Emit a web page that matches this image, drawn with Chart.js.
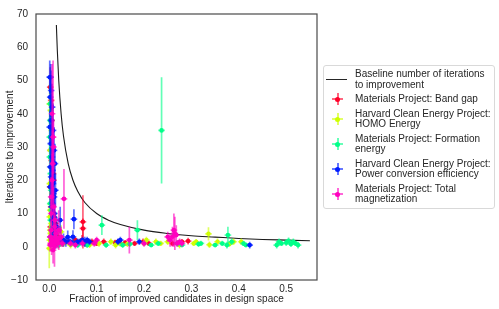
<!DOCTYPE html>
<html>
<head>
<meta charset="utf-8">
<title>Iterations to improvement</title>
<script src="https://cdn.jsdelivr.net/npm/chart.js@4"></script>
<style>
  body { margin: 0; background: #fff; font-family: "Liberation Sans", Arial, sans-serif; }
  #wrap { position: relative; width: 499px; height: 309px; }
  #legend {
    position: absolute; left: 323px; top: 65px; width: 172px; height: 144px;
    box-sizing: border-box; border: 1px solid #d9d9d9; border-radius: 3px;
    padding-top: 3px; font-size: 10px; line-height: 10.5px; color: #262626;
  }
  .item { position: relative; padding-left: 31px; margin-bottom: 4px; white-space: nowrap; }
  .mark { position: absolute; left: 2px; top: 50%; width: 22px; height: 12px; margin-top: -6px; }
  .mark .line { position: absolute; left: 0; top: 5.5px; width: 21px; height: 1.2px; background: #262626; }
  .mark .h { position: absolute; left: 6px; top: 5px; width: 11px; height: 2px; opacity: .6; }
  .mark .v { position: absolute; left: 10.5px; top: 0; width: 2px; height: 12px; opacity: .6; }
  .mark .d { position: absolute; left: 9px; top: 4px; width: 5px; height: 5px; border-radius: 50%; }
</style>
</head>
<body>
<div id="wrap">
  <canvas id="js--chart" width="499" height="309"></canvas>
  <div id="legend"></div>
</div>
<script>
// baseline curve
const baselineX = [0.015, 0.017, 0.02, 0.025, 0.03, 0.04, 0.05, 0.06, 0.075, 0.1, 0.125, 0.15, 0.2, 0.25, 0.3, 0.35, 0.4, 0.45, 0.5, 0.55];
const baselineY = [66.7, 59, 50, 40, 33.3, 25, 20, 16.7, 13.3, 10, 8, 6.7, 5, 4, 3.3, 2.9, 2.5, 2.2, 2, 1.8];

// Materials Project: Band gap
const bandGapX = [0.002, 0.004, 0.006, 0.003, 0.005, 0.008, 0.002, 0.006, 0.004, 0.009, 0.003, 0.007, 0.012, 0.016, 0.010, 0.022, 0.028, 0.040, 0.055, 0.071, 0.071, 0.069, 0.075, 0.090, 0.100, 0.115, 0.139, 0.145, 0.160, 0.180, 0.198, 0.210, 0.260, 0.280, 0.293, 0.005, 0.009, 0.013, 0.019];
const bandGapY = [48, 44, 33, 29, 26, 22, 18, 15, 12, 9, 6, 4, 3, 2, 1, 1.5, 1, 1.5, 2, 7.5, 5.5, 2, 1, 1.5, 1, 1.5, 1.3, 1.5, 1.2, 1, 1.5, 1, 1, 1.5, 1.7, 38, 20, 7, 3];
const bandGapErr = [6, 5, 8, 6, 5, 6, 4, 5, 3, 4, 3, 2, 2, 1.5, 1, 1, 1, 1, 1, 8, 3, 1.5, 1, 1, 0.8, 1, 0.8, 0.8, 0.8, 0.8, 1, 0.8, 0.8, 0.8, 1, 7, 6, 3, 2];

// Harvard Clean Energy Project: HOMO Energy
const homoX = [0.001, 0.003, 0.002, 0.004, 0.001, 0.003, 0.002, 0.001, 0.004, 0.002, 0.003, 0.001, 0.000, 0.006, 0.010, 0.013, 0.025, 0.030, 0.045, 0.060, 0.085, 0.105, 0.130, 0.140, 0.150, 0.165, 0.200, 0.205, 0.225, 0.235, 0.250, 0.275, 0.305, 0.310, 0.336, 0.338, 0.355, 0.380, 0.389, 0.405, 0.005, 0.007, 0.015, 0.020, 0.035];
const homoY = [43, 41, 29, 24, 19, 13, 11, 9, 7, 5, 4, 2, -0.5, 1, 0.5, 3, 4.5, 1, 0.5, 1, 0.5, 1, 1.5, 0.5, 1, 0.8, 1, 2, 1.5, 1, 1.5, 0.5, 1, 1.5, 3.9, 0.6, 1.5, 0.8, 1.5, 1.5, 35, 16, 1.5, 0.5, 1.5];
const homoErr = [6, 4, 4, 5, 3, 3, 3, 3, 3, 2, 2, 1.5, 6, 1, 1, 2, 2, 1, 1, 1, 0.8, 1, 1, 1, 1, 0.8, 0.8, 1, 1, 0.8, 1, 1, 0.8, 0.8, 2, 1, 1, 0.8, 1, 1, 5, 4, 1, 1, 1];

// Materials Project: Formation energy
const formationX = [0.002, 0.001, 0.003, 0.002, 0.005, 0.003, 0.006, 0.004, 0.008, 0.012, 0.020, 0.045, 0.060, 0.080, 0.111, 0.120, 0.155, 0.170, 0.186, 0.215, 0.230, 0.237, 0.270, 0.280, 0.315, 0.320, 0.350, 0.365, 0.375, 0.377, 0.385, 0.410, 0.415, 0.480, 0.485, 0.490, 0.500, 0.505, 0.510, 0.515, 0.520, 0.525, 0.001, 0.004, 0.002, 0.007, 0.016];
const formationY = [38, 27, 22, 13, 11, 8, 5, 3, 2, 1, 0.5, 1, 0.5, 0.5, 6.5, 0.5, 0.5, 0.8, 5, 0.5, 1, 35, 1, 0.5, 0.8, 1, 0.5, 1, 0.5, 3.5, 1.5, 1, 0.5, 0.5, 1.5, 1, 1.2, 1.8, 0.8, 1.5, 1, 0.5, 33, 17, 43, 6, 2];
const formationErr = [5, 4, 3, 3, 3, 2, 2, 2, 1.5, 1, 0.8, 1, 0.8, 0.8, 3, 0.8, 0.8, 0.8, 3, 0.6, 0.8, 16, 1, 0.6, 0.8, 0.8, 0.6, 0.8, 1, 2.5, 1, 0.8, 0.6, 1, 1, 0.8, 1, 1, 0.8, 1, 0.8, 1, 5, 4, 6, 3, 1.5];

// Harvard Clean Energy Project: Power conversion efficiency
const pceX = [0.001, 0.003, 0.002, 0.004, 0.001, 0.005, 0.003, 0.006, 0.002, 0.007, 0.004, 0.008, 0.009, 0.010, 0.005, 0.011, 0.007, 0.009, 0.012, 0.003, 0.006, 0.014, 0.018, 0.022, 0.023, 0.030, 0.035, 0.039, 0.042, 0.045, 0.050, 0.052, 0.055, 0.060, 0.065, 0.070, 0.075, 0.080, 0.085, 0.145, 0.150, 0.190, 0.423, 0.004, 0.006, 0.008, 0.010, 0.012, 0.002, 0.007, 0.009, 0.013, 0.016];
const pceY = [51, 51, 45, 38, 36, 33, 31, 27, 24, 23, 21, 19, 16, 15, 12, 10, 8, 6, 4, 3, 2, 1, 1.5, 2, 8, 2, 1.5, 2.9, 1.5, 1.5, 3, 8.3, 1, 1.5, 1.5, 2, 1.5, 2, 1.5, 1.5, 2, 1.5, 0.5, 47, 42, 35, 29, 25, 18, 13, 9, 17, 6];
const pceErr = [5, 4, 6, 8, 5, 7, 6, 8, 6, 7, 5, 6, 6, 7, 5, 5, 4, 3, 3, 2, 2, 1.5, 1, 1.5, 4, 2, 1.5, 2, 1, 1, 2, 3, 1, 1, 1, 1, 1.5, 1, 1, 1, 1, 1, 1, 6, 7, 8, 7, 6, 5, 5, 4, 5, 3];

// Materials Project: Total magnetization
const magX = [0.008, 0.006, 0.009, 0.004, 0.031, 0.025, 0.020, 0.015, 0.010, 0.005, 0.003, 0.008, 0.011, 0.018, 0.002, 0.004, 0.011, 0.014, 0.006, 0.045, 0.055, 0.070, 0.095, 0.100, 0.169, 0.200, 0.250, 0.255, 0.260, 0.263, 0.265, 0.268, 0.270, 0.275, 0.280, 0.006, 0.009, 0.012, 0.004, 0.007, 0.013, 0.016, 0.002, 0.022, 0.028];
const magY = [33, 40, 30, 15, 14.4, 3, 5, 2, 1, 0.5, 1, -1, 0, 1, 3, 5, 6, 4, 2, 1, 0.5, 1, 1, 2, 2, 1, 3, 2, 3, 5, 4, 3.5, 1, 1.5, 1, 20, 12, 8, 10, 25, 3, 1.5, 0.5, 2.5, 1];
const magErr = [23, 15, 8, 6, 9, 3, 6, 2, 2, 3, 1.5, 4, 6, 1.5, 2, 3, 4, 3, 1.5, 1, 1, 1, 1, 1, 4, 1, 1.5, 2, 3, 5, 5, 3, 1, 1, 1, 8, 6, 5, 4, 10, 2, 1.5, 2, 2, 1];

const xTicks = [0, 0.1, 0.2, 0.3, 0.4, 0.5];
const yTicks = [-10, 0, 10, 20, 30, 40, 50, 60, 70];
const X_ERR = 0.007;
const FONT = '"Liberation Sans", Arial, sans-serif';
const TEXT = '#262626';

const series = [
  { label: "Materials Project: Band gap", legend: ["Materials Project: Band gap"], x: bandGapX, y: bandGapY, err: bandGapErr, color: "#ff0029" },
  { label: "Harvard Clean Energy Project: HOMO Energy", legend: ["Harvard Clean Energy Project:", "HOMO Energy"], x: homoX, y: homoY, err: homoErr, color: "#cfff00" },
  { label: "Materials Project: Formation energy", legend: ["Materials Project: Formation", "energy"], x: formationX, y: formationY, err: formationErr, color: "#00ff89" },
  { label: "Harvard Clean Energy Project: Power conversion efficiency", legend: ["Harvard Clean Energy Project:", "Power conversion efficiency"], x: pceX, y: pceY, err: pceErr, color: "#001cff" },
  { label: "Materials Project: Total magnetization", legend: ["Materials Project: Total", "magnetization"], x: magX, y: magY, err: magErr, color: "#ff00bf" }
];

function toPoints(xs, ys) {
  return xs.map(function (x, i) { return { x: x, y: ys[i] }; });
}

function fade(hex, a) {
  const n = parseInt(hex.slice(1), 16);
  return "rgba(" + (n >> 16) + "," + ((n >> 8) & 255) + "," + (n & 255) + "," + a + ")";
}

const datasets = [{
  label: "Baseline number of iterations to improvement",
  data: toPoints(baselineX, baselineY),
  showLine: true,
  borderColor: "#1a1a1a",
  borderWidth: 1.1,
  pointRadius: 0,
  cubicInterpolationMode: "monotone",
  order: 6
}];

series.forEach(function (s, i) {
  datasets.push({
    label: s.label,
    data: toPoints(s.x, s.y),
    yErr: s.err,
    barColor: fade(s.color, 0.62),
    backgroundColor: s.color,
    borderWidth: 0,
    pointRadius: 2.3,
    showLine: false,
    order: 5 - i
  });
});

// vertical + horizontal error bars, drawn just before each dataset's markers
const errorBars = {
  id: "errorBars",
  beforeDatasetDraw: function (chart, args) {
    const ds = chart.data.datasets[args.index];
    if (!ds.yErr) return;
    const xs = chart.scales.x, ys = chart.scales.y, ctx = chart.ctx, a = chart.chartArea;
    ctx.save();
    ctx.beginPath();
    ctx.rect(a.left, a.top, a.right - a.left, a.bottom - a.top);
    ctx.clip();
    ctx.strokeStyle = ds.barColor;
    ctx.lineWidth = 1.7;
    ds.data.forEach(function (p, i) {
      const px = xs.getPixelForValue(p.x), py = ys.getPixelForValue(p.y);
      ctx.beginPath();
      ctx.moveTo(px, ys.getPixelForValue(p.y - ds.yErr[i]));
      ctx.lineTo(px, ys.getPixelForValue(p.y + ds.yErr[i]));
      ctx.moveTo(xs.getPixelForValue(p.x - X_ERR), py);
      ctx.lineTo(xs.getPixelForValue(p.x + X_ERR), py);
      ctx.stroke();
    });
    ctx.restore();
  }
};

// box around the axes
const frame = {
  id: "frame",
  afterDatasetsDraw: function (chart) {
    const a = chart.chartArea, ctx = chart.ctx;
    ctx.save();
    ctx.strokeStyle = "#4a4a4a";
    ctx.lineWidth = 1.2;
    ctx.strokeRect(a.left, a.top, a.right - a.left, a.bottom - a.top);
    ctx.restore();
  }
};

new Chart(document.getElementById("js--chart"), {
  type: "scatter",
  data: { datasets: datasets },
  plugins: [errorBars, frame],
  options: {
    responsive: false,
    animation: false,
    devicePixelRatio: 1,
    layout: { padding: { top: 6, right: 182, left: 0, bottom: 0 } },
    plugins: { legend: { display: false }, tooltip: { enabled: false } },
    scales: {
      x: {
        type: "linear", min: -0.028, max: 0.565,
        grid: { display: false, drawTicks: false },
        border: { display: false },
        afterBuildTicks: function (s) { s.ticks = xTicks.map(function (v) { return { value: v }; }); },
        afterFit: function (s) { s.height = 29; },
        ticks: { padding: 3, color: TEXT, font: { size: 10, family: FONT }, maxRotation: 0, autoSkip: false,
          callback: function (v) { return v.toFixed(1); } },
        title: { display: true, text: "Fraction of improved candidates in design space", color: TEXT,
          font: { size: 10, family: FONT }, padding: { top: 0, bottom: 4 } }
      },
      y: {
        type: "linear", min: -10, max: 70,
        grid: { display: false, drawTicks: false },
        border: { display: false },
        afterBuildTicks: function (s) { s.ticks = yTicks.map(function (v) { return { value: v }; }); },
        afterFit: function (s) { s.width = 36; },
        ticks: { padding: 8, color: TEXT, font: { size: 10, family: FONT }, autoSkip: false,
          callback: function (v) { return v < 0 ? "\u2212" + Math.abs(v) : String(v); } },
        title: { display: true, text: "Iterations to improvement", color: TEXT,
          font: { size: 10, family: FONT }, padding: { top: 4, bottom: 0 } }
      }
    }
  }
});

// legend as html
const legendBox = document.getElementById("legend");
let html = '<div class="item"><div class="mark"><div class="line"></div></div>Baseline number of iterations<br>to improvement</div>';
series.forEach(function (s) {
  html += '<div class="item"><div class="mark">' +
    '<div class="h" style="background:' + s.color + '"></div>' +
    '<div class="v" style="background:' + s.color + '"></div>' +
    '<div class="d" style="background:' + s.color + '"></div></div>' +
    s.legend.join("<br>") + '</div>';
});
legendBox.innerHTML = html;
</script>
</body>
</html>
